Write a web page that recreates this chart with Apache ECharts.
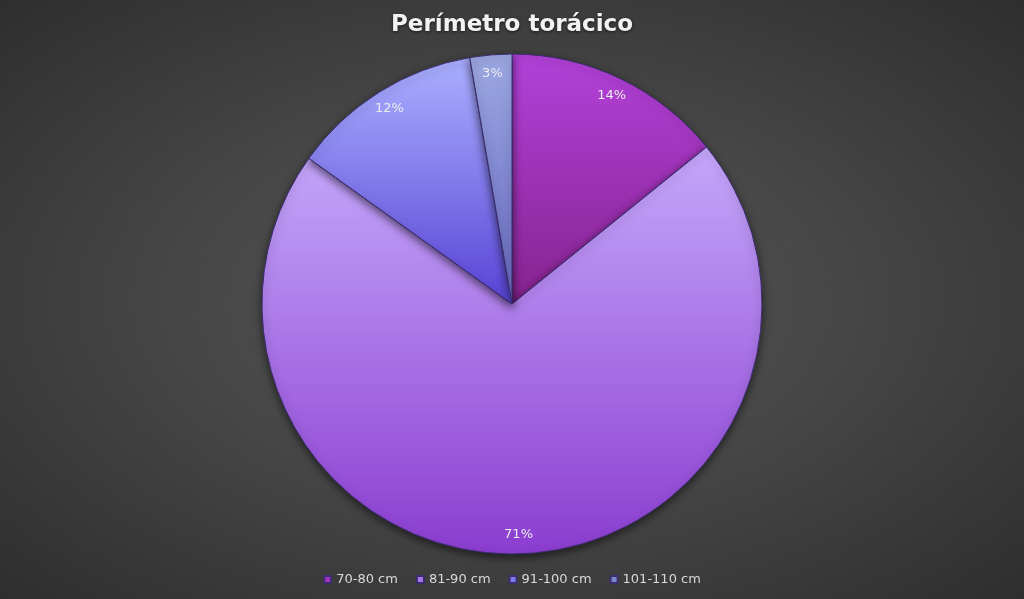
<!DOCTYPE html>
<html lang="es">
<head>
    <meta charset="UTF-8">
    <title>Perímetro torácico</title>
    <style>
        html, body {
            margin: 0;
            padding: 0;
            width: 100%;
            height: 100%;
            overflow: hidden;
        }

        #chart-canvas {
            width: 1024px;
            height: 599px;
            background: radial-gradient(ellipse at 50% 50%, #555555 0%, #474747 45%, #2e2e2e 100%);
        }
    </style>
</head>
<body>
<div id="chart-canvas"></div>
<script src="https://cdn.jsdelivr.net/npm/echarts@6/dist/echarts.min.js"></script>
<script type="text/javascript">
    // rangos de perímetro torácico y porcentaje de cada uno
    const categories = ["70-80 cm", "81-90 cm", "91-100 cm", "101-110 cm"];
    const values = [14.2, 70.7, 12.4, 2.7];

    // degradado vertical de cada porción (arriba, abajo)
    const sliceColors = [
        ["#b341da", "#86238f"],
        ["#c5a8fb", "#8b3dd0"],
        ["#aab0ff", "#5943d6"],
        ["#9ca8e2", "#6668bf"]
    ];
    // color liso de los cuadritos de la leyenda
    const legendColors = ["#a232c4", "#a877e6", "#7c78f0", "#7c86cc"];

    function grad(c) {
        return new echarts.graphic.LinearGradient(0, 0, 0, 1, [
            {offset: 0, color: c[0]},
            {offset: 1, color: c[1]}
        ]);
    }

    const pieData = categories.map((name, i) => ({
        name: name,
        value: values[i],
        itemStyle: {color: grad(sliceColors[i])}
    }));

    // copia transparente solo para colocar las etiquetas cerca del borde
    const labelData = categories.map((name, i) => ({name: name, value: values[i]}));

    let myChart = echarts.init(document.getElementById('chart-canvas'));
    myChart.setOption({
        backgroundColor: 'transparent',
        animation: false,
        title: {
            text: 'Perímetro torácico',
            left: 'center',
            top: 9,
            textStyle: {
                color: '#f2f2f2',
                fontFamily: 'DejaVu Sans',
                fontWeight: 'bold',
                fontSize: 23,
                textShadowColor: 'rgba(0,0,0,0.6)',
                textShadowBlur: 3,
                textShadowOffsetY: 1
            }
        },
        legend: {
            data: categories.map((name, i) => ({name: name, itemStyle: {color: legendColors[i]}})),
            bottom: 8,
            left: 'center',
            icon: 'rect',
            itemWidth: 7,
            itemHeight: 7,
            itemGap: 18,
            textStyle: {
                color: '#d9d9d9',
                fontFamily: 'DejaVu Sans',
                fontSize: 13
            }
        },
        series: [
            {
                type: 'pie',
                center: [512, 304],
                radius: 250,
                startAngle: 90,
                clockwise: true,
                data: pieData,
                label: {show: false},
                labelLine: {show: false},
                emphasis: {disabled: true},
                itemStyle: {
                    borderColor: '#3b2d6e',
                    borderWidth: 1,
                    shadowColor: 'rgba(0,0,0,0.55)',
                    shadowBlur: 8,
                    shadowOffsetY: 3
                }
            },
            {
                type: 'pie',
                center: [512, 304],
                radius: [206, 250],
                startAngle: 90,
                clockwise: true,
                silent: true,
                legendHoverLink: false,
                data: labelData,
                itemStyle: {color: 'transparent', borderWidth: 0},
                emphasis: {disabled: true},
                labelLine: {show: false},
                label: {
                    show: true,
                    position: 'inside',
                    formatter: p => Math.round(p.value) + '%',
                    color: '#ececec',
                    fontFamily: 'DejaVu Sans',
                    fontSize: 13
                }
            }
        ]
    });
</script>
</body>
</html>
